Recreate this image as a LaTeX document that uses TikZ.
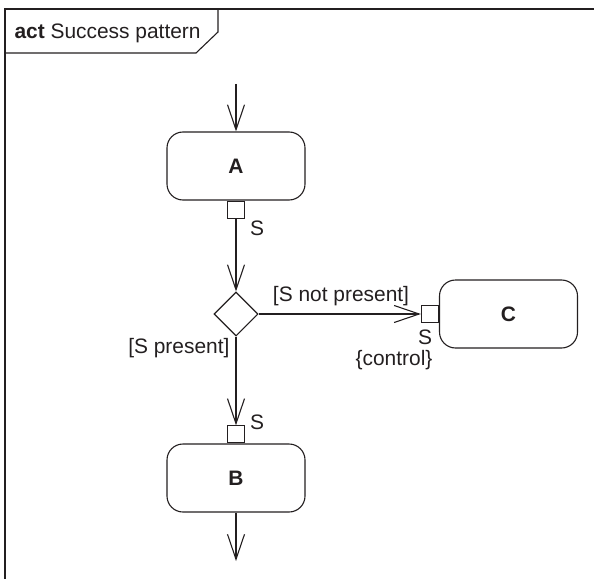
\documentclass[tikz,border=0pt]{standalone}
\usepackage{fontspec}
\setmainfont{Liberation Sans}
\usetikzlibrary{arrows.meta,shapes.geometric}
\begin{document}
\begin{tikzpicture}[x=1bp,y=-1bp,
  line width=1.1bp, draw={rgb,255:red,35;green,31;blue,32},
  every node/.style={font=\fontsize{21}{24}\selectfont, text={rgb,255:red,35;green,31;blue,32}},
  action/.style={draw, rounded corners=16bp, minimum width=138bp, minimum height=68bp, font=\fontsize{21}{24}\selectfont\bfseries},
  pin/.style={draw, fill=white, minimum width=17bp, minimum height=17bp, inner sep=0pt},
  decision/.style={draw, diamond, minimum width=44bp, minimum height=44bp, inner sep=0pt},
  flow/.style={-{Straight Barb[length=25bp,width=17bp]}},
  lbl/.style={inner sep=0pt}
]
\useasboundingbox (0,0) rectangle (594,579);
% frame
\draw (594,9) -- (5,9) -- (5,579);
\draw (5,53) -- (196,53) -- (218,32) -- (218,9);
\node[lbl, anchor=west] (title) at (14,33) {\textbf{act} Success pattern};

% nodes
\node[action] (A) at (236,166) {A};
\node[action] (B) at (236,478) {B};
\node[action] (C) at (508.5,314) {C};
\node[pin, anchor=north] (pA) at (A.south) {};
\node[pin, anchor=south] (pB) at (B.north) {};
\node[pin, anchor=east] (pC) at (C.west) {};
\node[decision] (D) at (236,314) {};
\coordinate (start) at (236,84);
\coordinate (end) at (236,561);

% labels
\node[lbl] (sA) at (257,228) {S};
\node[lbl] (sB) at (257,422) {S};
\node[lbl] (sC) at (425,337) {S};
\node[lbl] (ctl) at (394,360) {\{control\}};
\node[lbl] (np) at (341,296) {[S not present]};
\node[lbl, anchor=east] (pr) at (230,348) {[S present]};

% flows
\draw[flow] (start) -- (A.north);
\draw[flow] (pA.south) -- (D.north);
\draw[flow] (D.east) -- (pC.west);
\draw[flow] (D.south) -- (pB.north);
\draw[flow] (B.south) -- (end);
\end{tikzpicture}
\end{document}
